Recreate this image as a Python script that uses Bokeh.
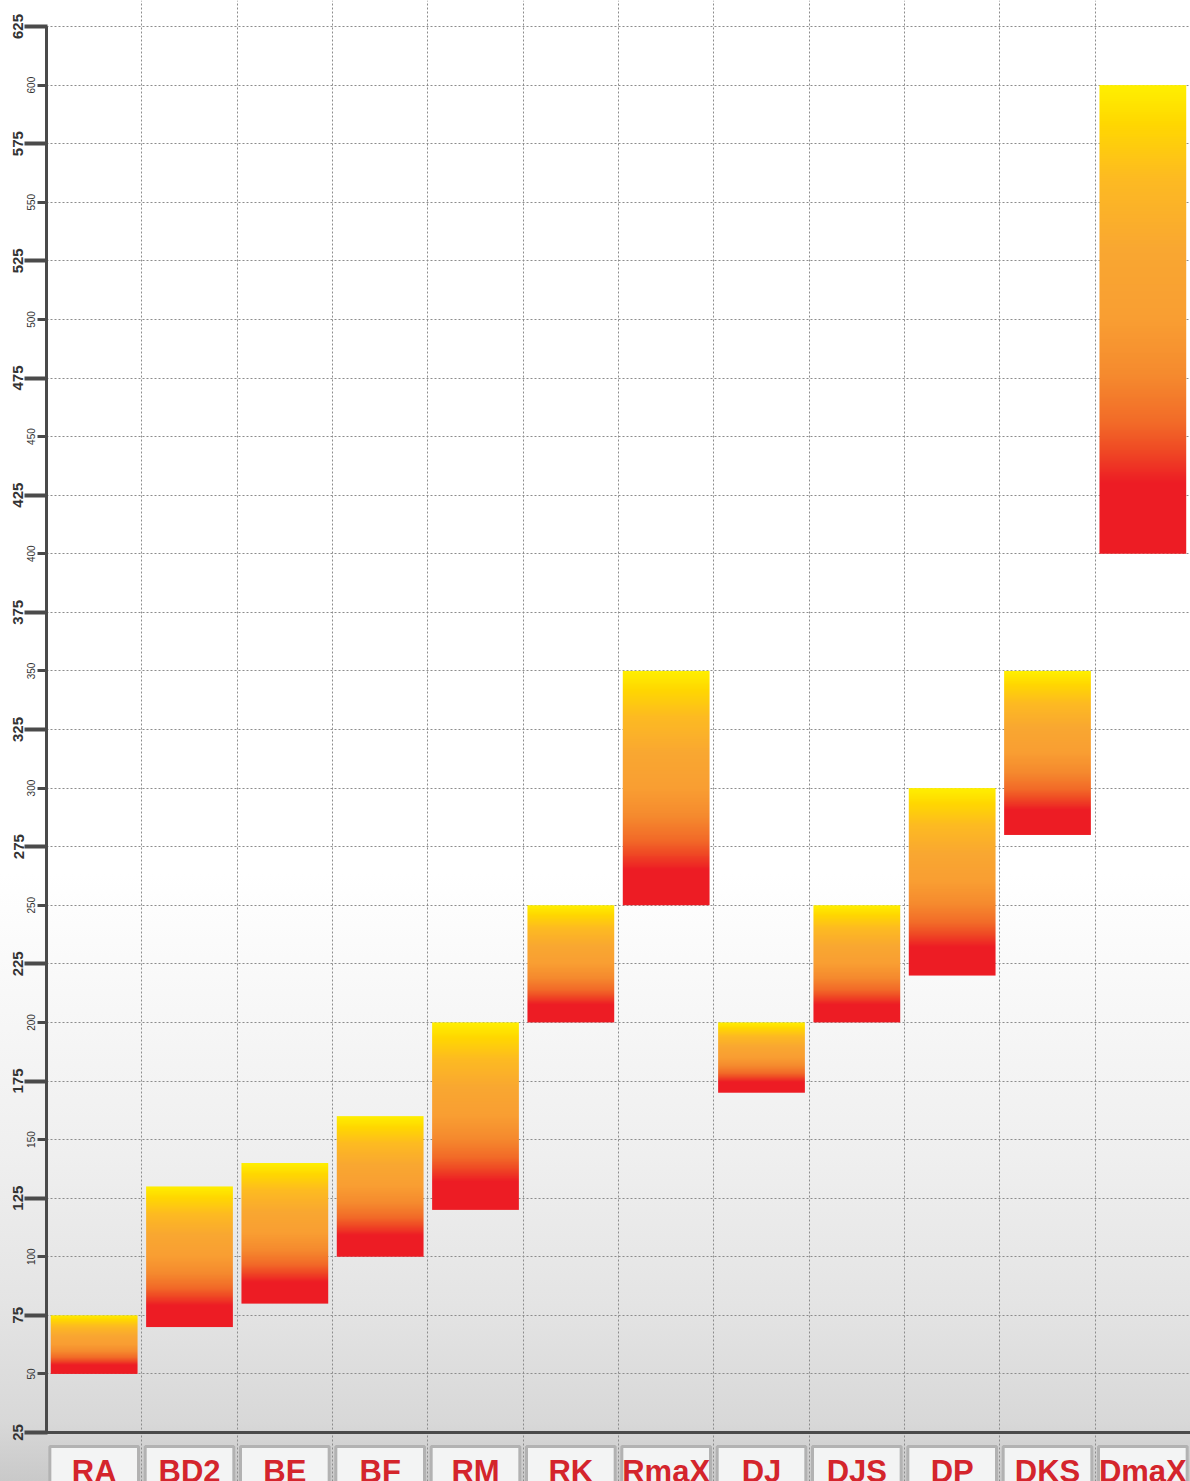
import math
import numpy as np
from bokeh.plotting import figure
from bokeh.models import Range1d, FixedTicker, Span, LinearAxis
from bokeh.core.properties import value
from bokeh.embed import file_html
from bokeh.resources import INLINE

# ---- data ----
categories = ["RA", "BD2", "BE", "BF", "RM", "RK", "RmaX", "DJ", "DJS", "DP", "DKS", "DmaX"]
range_low = [50, 70, 80, 100, 120, 200, 250, 170, 200, 220, 280, 400]
range_high = [75, 130, 140, 160, 200, 250, 350, 200, 250, 300, 350, 600]
major_ticks = list(range(25, 626, 50))
minor_ticks = list(range(50, 601, 50))
grid_ticks = list(range(50, 626, 25))

# ---- layout constants ----
W, H = 1190, 1481
Y0, Y1 = 4.09, 636.1
BAR_W = 0.91
BOX_W = 0.93
BOX_TOP = 19.0
TEXT_Y = 8.3

p = figure(width=W, height=H, output_backend="svg", toolbar_location=None,
           x_range=Range1d(0, len(categories)), y_range=Range1d(Y0, Y1),
           x_axis_location=None, min_border_left=46, min_border_right=0,
           min_border_top=0, min_border_bottom=0)
p.outline_line_color = None
p.background_fill_alpha = 0
p.border_fill_alpha = 0
p.styles = {"background": "linear-gradient(to bottom, #ffffff 0%, #ffffff 59%, "
            "#f8f8f8 67%, #efefef 78%, #e4e4e4 88%, #d8d8d8 96%, #c9c9c9 100%)"}

# grids
p.xgrid.ticker = FixedTicker(ticks=list(range(1, len(categories))))
p.xgrid.bounds = (25, Y1)
p.ygrid.ticker = FixedTicker(ticks=grid_ticks)
for g in (p.xgrid, p.ygrid):
    g.grid_line_color = "#8c8c8c"
    g.grid_line_dash = "2 2"
    g.grid_line_width = 1

# inner y axis: small ticks and small labels (50, 100, ...)
ax = p.yaxis[0]
ax.ticker = FixedTicker(ticks=minor_ticks, minor_ticks=[])
ax.bounds = (25, 625)
ax.axis_line_color = "#4a4a4a"
ax.axis_line_width = 3
ax.major_tick_line_color = "#4a4a4a"
ax.major_tick_line_width = 3
ax.major_tick_in = 0
ax.major_tick_out = 9
ax.minor_tick_line_color = None
ax.major_label_standoff = 2
ax.major_label_orientation = "parallel"
ax.major_label_text_font = "Liberation Sans"
ax.major_label_text_font_size = "10px"
ax.major_label_text_color = "#333333"

# outer y axis: long ticks and big bold labels (25, 75, ...)
ax2 = LinearAxis(ticker=FixedTicker(ticks=major_ticks, minor_ticks=[]))
ax2.axis_line_color = None
ax2.major_tick_line_color = "#4a4a4a"
ax2.major_tick_line_width = 4
ax2.major_tick_in = 23
ax2.major_tick_out = 0
ax2.minor_tick_line_color = None
ax2.major_label_standoff = 1
ax2.major_label_orientation = "parallel"
ax2.major_label_text_font = "Liberation Sans"
ax2.major_label_text_font_style = "bold"
ax2.major_label_text_font_size = "15px"
ax2.major_label_text_color = "#333333"
p.add_layout(ax2, "left")

# x axis line
p.add_layout(Span(location=25, dimension="width", line_color="#4a4a4a", line_width=3))

# gradient bars
stops = [(0.0, "#ED1C24"), (0.15, "#ED1C24"), (0.22, "#EF4A24"), (0.28, "#F26B28"),
         (0.38, "#F58A2E"), (0.5, "#F99E32"), (0.65, "#F9A731"), (0.8, "#FDBA22"),
         (0.92, "#FFD800"), (1.0, "#FFF000")]
pos = np.array([s[0] for s in stops])
rgb = np.array([[int(c[i:i + 2], 16) for i in (1, 3, 5)] for _, c in stops], dtype=float)
N = 256
f = np.linspace(0, 1, N)
img = np.zeros((N, 4, 4), dtype=np.uint8)
for ch in range(3):
    img[:, :, ch] = np.interp(f, pos, rgb[:, ch])[:, None].round().astype(np.uint8)
img[:, :, 3] = 255
img32 = img.view(dtype=np.uint32).reshape((N, 4))

n = len(categories)
centers = [i + 0.5 for i in range(n)]
p.image_rgba(image=[img32] * n, x=[c - BAR_W / 2 for c in centers], y=range_low,
             dw=[BAR_W] * n, dh=[h - l for l, h in zip(range_low, range_high)])

# category label boxes
p.quad(left=[c - BOX_W / 2 for c in centers], right=[c + BOX_W / 2 for c in centers],
       bottom=[Y0 - 10] * n, top=[BOX_TOP] * n, fill_color="#f3f4f4",
       line_color="#b2b2b2", line_width=3)
p.text(x=centers, y=[TEXT_Y] * n, text=categories, text_align="center",
       text_baseline="alphabetic", text_font=value("Liberation Sans"),
       text_font_style="bold", text_font_size="31px", text_color="#d4252c")

open("out.html", "w").write(file_html(p, INLINE))
